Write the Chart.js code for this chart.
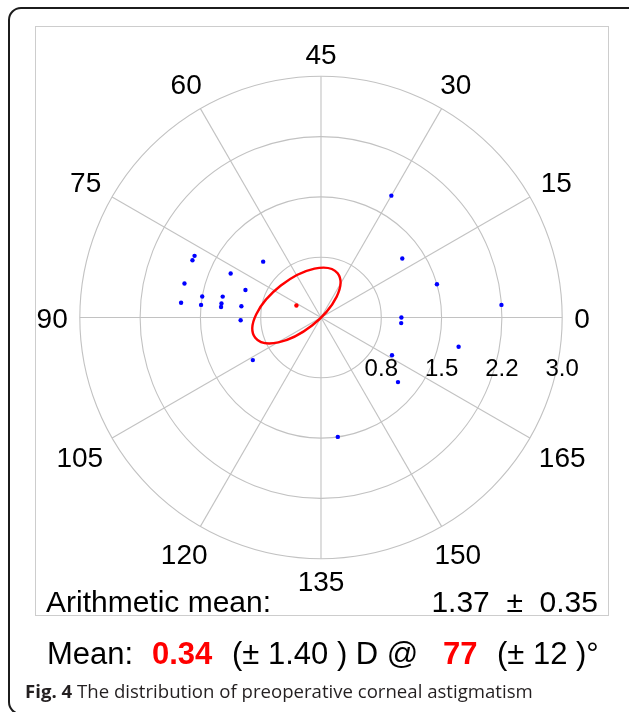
<!DOCTYPE html>
<html>
<head>
<meta charset="utf-8">
<script src="https://cdn.jsdelivr.net/npm/chart.js@4/dist/chart.umd.min.js"></script>
<style>
  html, body { margin: 0; padding: 0; background: #fff; }
  body { width: 629px; height: 712px; position: relative; overflow: hidden;
         font-family: "Liberation Sans", Arial, Helvetica, sans-serif; color: #000; }
  #card { position: absolute; left: 8px; top: 7px; width: 660px; height: 708px;
          border: 2px solid #1c1c1c; border-radius: 13px; box-sizing: border-box; }
  #panel { position: absolute; left: 35px; top: 26px; width: 574px; height: 590px;
           border: 1.5px solid #cdcdcd; box-sizing: border-box; background: #fff; }
  canvas { position: absolute; left: 0; top: 0; }
  .t { position: absolute; white-space: pre; line-height: 1; }
  .red { color: #ff0000; font-weight: bold; }
  #caption { font-family: "Open Sans", sans-serif; color: #231f20; }
</style>
</head>
<body>
<div id="card"></div>
<div id="panel"></div>
<canvas id="chart" width="629" height="712"></canvas>

<div class="t" style="left:46px; top:586.5px; font-size:30px;">Arithmetic mean:</div>
<div class="t" style="right:31px; top:586.5px; font-size:30px; text-align:right;">1.37  ±  0.35</div>

<div class="t" style="left:47px; top:637.5px; font-size:31px;">Mean:</div>
<div class="t red" style="left:152px; top:637.5px; font-size:31px;">0.34</div>
<div class="t" style="left:232px; top:637.5px; font-size:31px;">(± 1.40 ) D @</div>
<div class="t red" style="left:443px; top:637.5px; font-size:31px;">77</div>
<div class="t" style="left:497px; top:637.5px; font-size:31px;">(± 12 )°</div>

<div id="caption" class="t" style="left:25px; top:682px; font-size:18.6px;"><b>Fig. 4</b> The distribution of preoperative corneal astigmatism</div>

<script>
// Axis angle labels (degrees) and their spokes on the double-angle plot
const axisTicks = [0, 15, 30, 45, 60, 75, 90, 105, 120, 135, 150, 165];
const axisTickLabels = ['0', '15', '30', '45', '60', '75', '90', '105', '120', '135', '150', '165'];

// Magnitude rings (dioptres) and the labels printed beside them
const ringValues = [0.75, 1.5, 2.25, 3.0];
const ringLabels = ['0.8', '1.5', '2.2', '3.0'];

// Preoperative corneal astigmatism per eye: magnitude (D) and axis (degrees)
const cylinderD = [1.75, 1.75, 1.00, 1.25, 1.75, 1.00, 1.50, 1.25, 1.75, 1.50,
                   1.25, 1.25, 1.00, 1.00, 1.00, 1.75, 1.25, 1.50, 2.25, 1.00,
                   1.00, 1.75, 1.00, 1.25, 1.50];
const axisDeg   = [77, 78, 68, 77, 83, 80, 85, 84, 87, 87,
                   86, 87, 86, 91, 106, 30, 18, 8, 2, 180,
                   178, 174, 166, 160, 139];

// Vector mean and its confidence ellipse (double-angle space, dioptres)
const meanD = 0.34;
const meanAxis = 77;
const ellipseSemiMajor = 0.65;
const ellipseSemiMinor = 0.315;
const ellipseTiltDeg = 38;

// Place a cylinder on the double-angle plane
function toDoubleAngle(mag, axis) {
  const t = 2 * axis * Math.PI / 180;
  return { x: mag * Math.cos(t), y: mag * Math.sin(t) };
}

const eyePoints = cylinderD.map((m, i) => toDoubleAngle(m, axisDeg[i]));
const meanPoint = toDoubleAngle(meanD, meanAxis);

const gridColor = '#c2c2c2';
const outerRing = ringValues[ringValues.length - 1];
const axisLabelGap = 3.15;      // inner edge of the angle labels, in dioptres
const ringLabelOffset = -0.615; // vertical position of the ring labels

const polarGrid = {
  id: 'polarGrid',
  beforeDatasetsDraw(chart) {
    const { ctx, scales: { x, y } } = chart;
    const cx = x.getPixelForValue(0), cy = y.getPixelForValue(0);
    const unit = x.getPixelForValue(1) - cx;
    ctx.save();
    ctx.strokeStyle = gridColor;
    ctx.lineWidth = 1.1;
    ringValues.forEach(v => {
      ctx.beginPath();
      ctx.arc(cx, cy, v * unit, 0, Math.PI * 2);
      ctx.stroke();
    });
    axisTicks.forEach(a => {
      const p = toDoubleAngle(outerRing, a);
      ctx.beginPath();
      ctx.moveTo(cx, cy);
      ctx.lineTo(x.getPixelForValue(p.x), y.getPixelForValue(p.y));
      ctx.stroke();
    });

    // angle labels: pushed outward so each text box clears the outer ring
    ctx.fillStyle = '#000';
    ctx.textAlign = 'center';
    ctx.textBaseline = 'alphabetic';
    const angleSize = 28;
    ctx.font = angleSize + 'px "Liberation Sans", Arial, sans-serif';
    const halfCap = 0.358 * angleSize;
    axisTicks.forEach((a, i) => {
      const t = 2 * a * Math.PI / 180;
      const halfW = ctx.measureText(axisTickLabels[i]).width / 2;
      const extra = (halfW * Math.abs(Math.cos(t)) + halfCap * Math.abs(Math.sin(t))) / unit;
      const p = toDoubleAngle(axisLabelGap + extra, a);
      ctx.fillText(axisTickLabels[i], x.getPixelForValue(p.x), y.getPixelForValue(p.y) + halfCap);
    });

    const ringSize = 24;
    ctx.font = ringSize + 'px "Liberation Sans", Arial, sans-serif';
    ringValues.forEach((v, i) => {
      ctx.fillText(ringLabels[i], x.getPixelForValue(v),
                   y.getPixelForValue(ringLabelOffset) + 0.358 * ringSize);
    });
    ctx.restore();
  },
  afterDatasetsDraw(chart) {
    const { ctx, scales: { x, y } } = chart;
    const unit = x.getPixelForValue(1) - x.getPixelForValue(0);
    ctx.save();
    ctx.strokeStyle = '#ff0000';
    ctx.lineWidth = 2.4;
    ctx.beginPath();
    ctx.ellipse(x.getPixelForValue(meanPoint.x), y.getPixelForValue(meanPoint.y),
                ellipseSemiMajor * unit, ellipseSemiMinor * unit,
                -ellipseTiltDeg * Math.PI / 180, 0, Math.PI * 2);
    ctx.stroke();
    ctx.restore();
  }
};

new Chart(document.getElementById('chart'), {
  type: 'scatter',
  data: {
    datasets: [
      { label: 'Eyes', data: eyePoints, backgroundColor: '#0000ff', borderColor: '#0000ff',
        pointRadius: 2.2, pointBorderWidth: 0, pointHoverRadius: 2.2 },
      { label: 'Mean', data: [meanPoint], backgroundColor: '#ff0000', borderColor: '#ff0000',
        pointRadius: 2.2, pointBorderWidth: 0, pointHoverRadius: 2.2 }
    ]
  },
  options: {
    responsive: false,
    animation: false,
    devicePixelRatio: 1,
    layout: { padding: { left: 55.7, right: 42.7, top: 52.2, bottom: 129.2 } },
    plugins: { legend: { display: false }, tooltip: { enabled: false } },
    scales: {
      x: { type: 'linear', min: -3.3, max: 3.3, display: false },
      y: { type: 'linear', min: -3.3, max: 3.3, display: false }
    }
  },
  plugins: [polarGrid]
});
</script>
</body>
</html>
